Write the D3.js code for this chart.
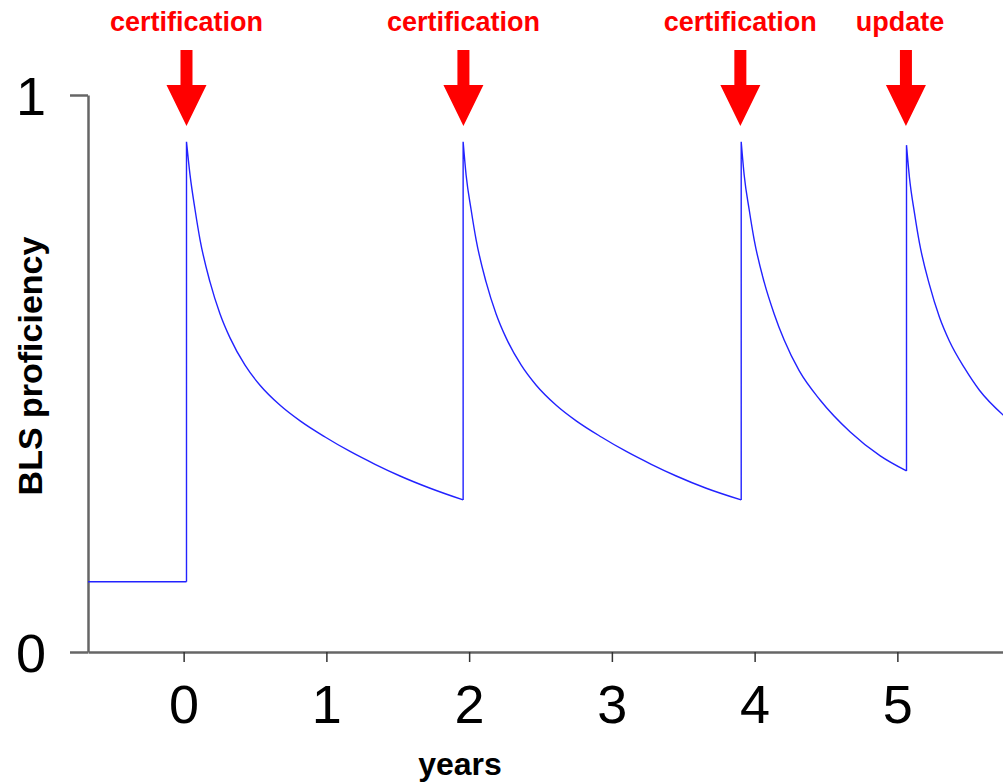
<!DOCTYPE html>
<html>
<head>
<meta charset="utf-8">
<script src="https://cdn.jsdelivr.net/npm/d3@7"></script>
<style>
  html, body { margin: 0; padding: 0; background: #fff; }
  svg { display: block; }
  text { font-family: "Liberation Sans", Arial, Helvetica, sans-serif; }
</style>
</head>
<body>
<svg id="chart" width="1003" height="783"></svg>
<script>
// ---- data ----
const years = [-0.67, 0.02, 0.02, 0.045, 0.080, 0.115, 0.185, 0.255, 0.325, 0.430, 0.535, 0.676, 0.816, 0.991, 1.166, 1.341, 1.516, 1.727, 1.958,
  1.958, 1.979, 2.014, 2.049, 2.119, 2.189, 2.259, 2.365, 2.470, 2.610, 2.750, 2.926, 3.101, 3.276, 3.451, 3.661, 3.906,
  3.906, 3.927, 3.962, 3.997, 4.067, 4.137, 4.207, 4.312, 4.460, 4.670, 4.880, 5.064,
  5.064, 5.085, 5.120, 5.155, 5.225, 5.295, 5.365, 5.470, 5.575, 5.743];
const proficiency = [0.126, 0.126, 0.916, 0.856, 0.794, 0.740, 0.664, 0.607, 0.564, 0.515, 0.479, 0.443, 0.415, 0.386, 0.360, 0.337, 0.316, 0.294, 0.273,
  0.916, 0.856, 0.794, 0.740, 0.664, 0.607, 0.564, 0.515, 0.479, 0.443, 0.415, 0.386, 0.360, 0.337, 0.316, 0.294, 0.273,
  0.916, 0.856, 0.794, 0.740, 0.664, 0.607, 0.560, 0.505, 0.452, 0.395, 0.352, 0.325,
  0.910, 0.851, 0.788, 0.734, 0.659, 0.601, 0.558, 0.510, 0.470, 0.425];
const eventYears = [0.02, 1.96, 3.90, 5.06];
const eventLabels = ["certification", "certification", "certification", "update"];
const xTicks = [0, 1, 2, 3, 4, 5];
const yTicks = [0, 1];
const xDomain = [-0.67, 5.74];
const yDomain = [0, 1];

// ---- layout ----
const svg = d3.select("#chart");
const mLeft = 88, mRight = 1003, mTop = 95, mBottom = 652;
const x = d3.scaleLinear().domain(xDomain).range([mLeft, mRight]);
const y = d3.scaleLinear().domain(yDomain).range([mBottom, mTop]);

const axisColor = "#666";

// y axis
const yAxis = svg.append("g").attr("transform", `translate(${mLeft},0)`)
  .call(d3.axisLeft(y).tickValues(yTicks).tickSize(18).tickSizeOuter(0).tickFormat(d3.format("d")));
yAxis.select(".domain").attr("stroke", axisColor).attr("stroke-width", 2.5);
yAxis.selectAll(".tick line").attr("stroke", axisColor).attr("stroke-width", 2.5);
yAxis.selectAll(".tick text").attr("font-size", 54).attr("fill", "#000")
  .attr("x", -57).attr("text-anchor", "middle").attr("dy", "0.36em");

// x axis
const xAxis = svg.append("g").attr("transform", `translate(0,${mBottom})`)
  .call(d3.axisBottom(x).tickValues(xTicks).tickSize(10).tickSizeOuter(0).tickFormat(d3.format("d")));
xAxis.select(".domain").attr("stroke", axisColor).attr("stroke-width", 2.5);
xAxis.selectAll(".tick line").attr("stroke", "#333").attr("stroke-width", 1.5);
xAxis.selectAll(".tick text").attr("font-size", 54).attr("fill", "#000")
  .attr("y", 71).attr("dy", 0);

// axis titles
svg.append("text").attr("x", 460).attr("y", 775).attr("text-anchor", "middle")
  .attr("font-size", 32).attr("font-weight", "bold").attr("fill", "#000").text("years");
svg.append("text").attr("transform", "translate(42,366) rotate(-90)").attr("text-anchor", "middle")
  .attr("font-size", 34).attr("font-weight", "bold").attr("fill", "#000").text("BLS proficiency");

// curve: smooth runs (strictly increasing years) joined by straight vertical jumps
const pts = years.map((t, i) => [t, proficiency[i]]);
const runs = [];
pts.forEach((p, i) => {
  if (i === 0 || p[0] !== pts[i - 1][0]) {
    if (runs.length === 0) runs.push([p]); else runs[runs.length - 1].push(p);
  } else {
    runs.push([p]);
  }
});
const smooth = d3.line().x(d => x(d[0])).y(d => y(d[1])).curve(d3.curveMonotoneX);
const straight = d3.line().x(d => x(d[0])).y(d => y(d[1]));
let dStr = "";
runs.forEach((r, i) => {
  dStr += smooth(r);
  if (i < runs.length - 1) dStr += straight([r[r.length - 1], runs[i + 1][0]]);
});
svg.append("path")
  .attr("fill", "none").attr("stroke", "#2222ff").attr("stroke-width", 1.4)
  .attr("stroke-linejoin", "round")
  .attr("d", dStr);

// event arrows and labels
const ev = svg.append("g");
eventYears.forEach((t, i) => {
  const cx = x(t);
  ev.append("path").attr("fill", "#ff0000")
    .attr("d", `M${cx - 6},50 L${cx + 6},50 L${cx + 6},85 L${cx + 20},85 L${cx},126 L${cx - 20},85 L${cx - 6},85 Z`);
  ev.append("text").attr("x", cx - (eventLabels[i] === "update" ? 6 : 0)).attr("y", 31)
    .attr("text-anchor", "middle").attr("font-size", 27).attr("font-weight", "bold")
    .attr("fill", "#ff0000").text(eventLabels[i]);
});
</script>
</body>
</html>
